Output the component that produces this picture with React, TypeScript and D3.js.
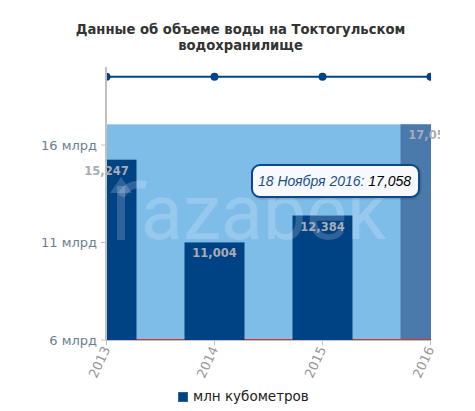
import React from "react";
import * as d3 from "d3";

const categories = ["2013", "2014", "2015", "2016"];
const volumes = [15.247, 11.004, 12.384, 17.058];
const volumeLabels = ["15,247", "11,004", "12,384", "17,058"];
const topLineValues = [19.5, 19.5, 19.5, 19.5];
const yTicks = [6, 11, 16];
const yTickLabels = ["6 млрд", "11 млрд", "16 млрд"];
const hoverIndex = 3;
const tooltipDate = "18 Ноября 2016: ";

export default function App() {
  const W = 475, H = 411;
  const left = 106, right = 431, top = 67, bottom = 340;
  const x = d3.scalePoint<string>().domain(categories).range([left + 0.5, right - 0.5]);
  const y = d3.scaleLinear().domain([6, 20]).range([bottom, top]);
  const barW = 60;
  const line = d3
    .line<number>()
    .x((_, i) => x(categories[i]) as number)
    .y((d) => y(d));
  const hx = x(categories[hoverIndex]) as number;
  const fontD = "'DejaVu Sans', sans-serif";
  const fontL = "'Liberation Sans', Arial, sans-serif";

  return (
    <svg
      width={W}
      height={H}
      style={{ position: "absolute", left: 0, top: 0, display: "block" }}
    >
      <defs>
        <clipPath id="plot">
          <rect x={left} y={top - 10} width={right - left} height={bottom - top + 10} />
        </clipPath>
        <clipPath id="lbl">
          <rect x={0} y={0} width={440} height={H} />
        </clipPath>
        <filter id="sh" x="-10%" y="-20%" width="130%" height="160%">
          <feDropShadow dx="1" dy="1" stdDeviation="1" floodColor="#000" floodOpacity="0.2" />
        </filter>
      </defs>
      <rect width={W} height={H} fill="#fff" />
      <text x={240.5} y={34} textAnchor="middle" fontFamily={fontD} fontWeight="bold" fontSize={13.2} fill="#333">
        Данные об объеме воды на Токтогульском
      </text>
      <text x={240.5} y={50} textAnchor="middle" fontFamily={fontD} fontWeight="bold" fontSize={13.2} fill="#333">
        водохранилище
      </text>

      <g clipPath="url(#plot)">
        {/* light background area */}
        <rect
          x={left}
          y={y(volumes[hoverIndex])}
          width={right - left}
          height={bottom - y(volumes[hoverIndex])}
          fill="#7fbde9"
        />
        {/* hovered category band */}
        <rect
          x={hx - barW / 2}
          y={y(volumes[hoverIndex])}
          width={barW}
          height={bottom - y(volumes[hoverIndex])}
          fill="#4a7aab"
        />
        <line x1={left} x2={right} y1={bottom - 0.5} y2={bottom - 0.5} stroke="#d9302a" strokeWidth={1} />
        {volumes.map((v, i) =>
          i === hoverIndex ? null : (
            <rect
              key={i}
              x={(x(categories[i]) as number) - barW / 2}
              y={y(v)}
              width={barW}
              height={bottom - y(v)}
              fill="#004385"
            />
          )
        )}
        {/* watermark */}
        <g fill="none" stroke="#fff" strokeOpacity={0.18} strokeWidth={8} strokeLinecap="butt">
          <path d="M121,240 L121,186" />
          <path d="M121,196 C126,186 136,183 146,185" />
        </g>
        <path d="M110,193 L121,177 L132,193 Z" fill="#fff" fillOpacity={0.18} />
        <text x={141} y={239} fontFamily="Roboto, 'Noto Sans', sans-serif" fontSize={77} fill="#fff" fillOpacity={0.18}>
          azabek
        </text>
        <path d={line(topLineValues) || ""} fill="none" stroke="#004385" strokeWidth={2} />
        {topLineValues.map((v, i) => (
          <circle key={i} cx={x(categories[i]) as number} cy={y(v)} r={4} fill="#004385" />
        ))}
      </g>

      {/* axes */}
      <line x1={left} x2={left} y1={top} y2={bottom} stroke="#c0c0c0" strokeWidth={2} />
      <line x1={left} x2={right} y1={bottom + 0.5} y2={bottom + 0.5} stroke="#c0c0c0" strokeWidth={1} />
      {yTicks.map((t, i) => (
        <g key={t}>
          <line x1={left - 5} x2={left} y1={y(t)} y2={y(t)} stroke="#c0c0c0" strokeWidth={1} />
          <text x={97} y={y(t) + 4.5} textAnchor="end" fontFamily={fontD} fontSize={13} fill="#6a8091">
            {yTickLabels[i]}
          </text>
        </g>
      ))}
      {categories.map((c) => {
        const cx = x(c) as number;
        return (
          <g key={c}>
            <line x1={cx} x2={cx} y1={bottom} y2={bottom + 5} stroke="#c0c0c0" strokeWidth={1} />
            <text
              transform={`translate(${cx + 4},${bottom + 9}) rotate(-65)`}
              textAnchor="end"
              fontFamily={fontD}
              fontSize={13}
              fill="#999"
            >
              {c}
            </text>
          </g>
        );
      })}

      {/* data labels */}
      <g clipPath="url(#lbl)">
        {volumes.map((v, i) => (
          <text
            key={i}
            x={x(categories[i]) as number}
            y={y(v) + 15}
            textAnchor="middle"
            fontFamily={fontD}
            fontWeight="bold"
            fontSize={11.5}
            fill="#a9adb3"
          >
            {volumeLabels[i]}
          </text>
        ))}
      </g>

      {/* tooltip */}
      <g filter="url(#sh)">
        <rect x={252} y={165} width={167} height={32} rx={8} ry={8} fill="#f7f9fc" stroke="#0a4a8a" strokeWidth={2} />
      </g>
      <text x={258} y={186} fontFamily={fontL} fontStyle="italic" fontSize={14} fill="#1a4f8c">
        {tooltipDate}
        <tspan fill="#000">{volumeLabels[hoverIndex]}</tspan>
      </text>

      {/* legend */}
      <rect x={178.5} y={392.5} width={9} height={9} fill="#004385" stroke="#2a64a0" strokeWidth={1} />
      <text x={193} y={401} fontFamily={fontD} fontSize={13.5} fill="#222">
        млн кубометров
      </text>
    </svg>
  );
}
